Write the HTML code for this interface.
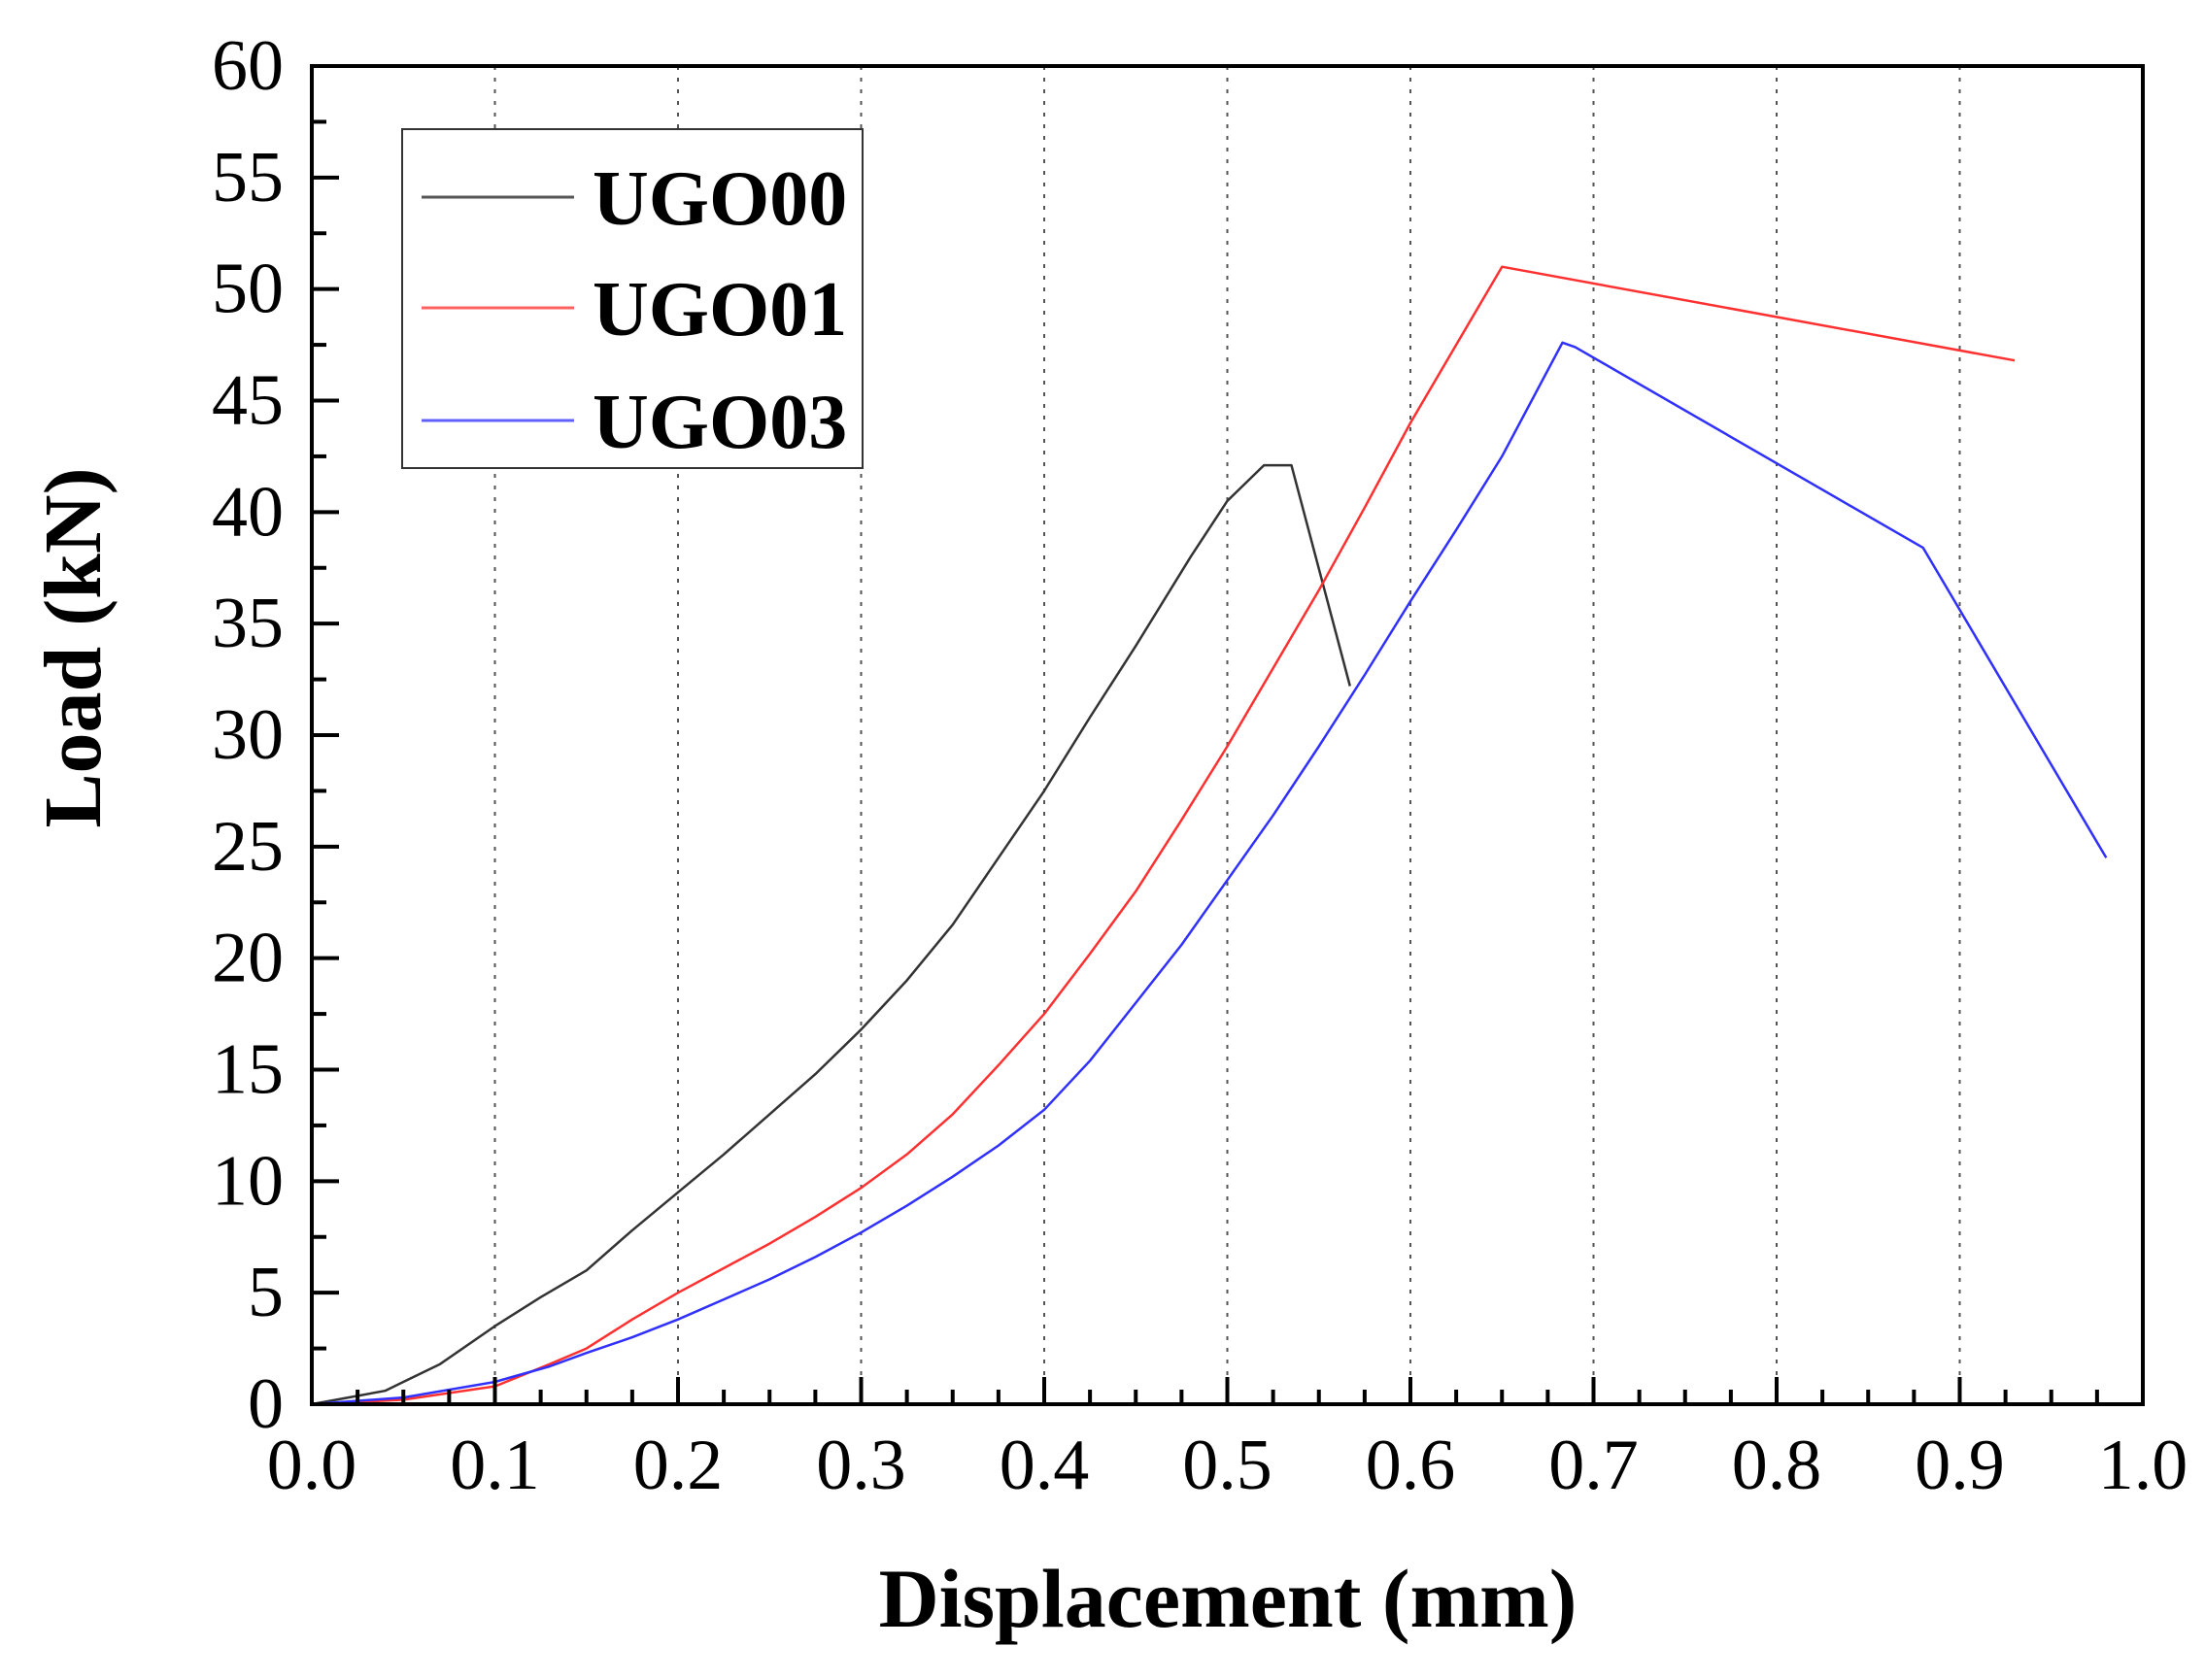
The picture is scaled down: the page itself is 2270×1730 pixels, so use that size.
<!DOCTYPE html>
<html><head><meta charset="utf-8"><style>
html,body{margin:0;padding:0;background:#fff;}
svg{display:block;}
text{font-family:"Liberation Serif",serif;fill:#000;}
</style></head><body>
<svg id="chart" width="2270" height="1730" viewBox="0 0 2270 1730" xmlns="http://www.w3.org/2000/svg">
<g id="grid"></g>
<g id="series"></g>
<g id="axes"></g>
<text transform="translate(103,667) rotate(-90)" text-anchor="middle" font-size="84" font-weight="bold">Load (kN)</text>
<text x="1264" y="1675" text-anchor="middle" font-size="86" font-weight="bold">Displacement (mm)</text>
<g>
<rect x="414" y="133" width="474" height="349" fill="#fff" stroke="#333" stroke-width="2"/>
<line x1="434" y1="203" x2="591" y2="203" stroke="#555" stroke-width="3"/>
<text x="610" y="231" font-size="80" font-weight="bold">UGO00</text>
<line x1="434" y1="317" x2="591" y2="317" stroke="#ff6060" stroke-width="3"/>
<text x="610" y="345" font-size="80" font-weight="bold">UGO01</text>
<line x1="434" y1="433" x2="591" y2="433" stroke="#6060ff" stroke-width="3"/>
<text x="610" y="461" font-size="80" font-weight="bold">UGO03</text>
</g>
</svg>
<script>
const xTicks = [0.0,0.1,0.2,0.3,0.4,0.5,0.6,0.7,0.8,0.9,1.0];
const xTickLabels = ["0.0","0.1","0.2","0.3","0.4","0.5","0.6","0.7","0.8","0.9","1.0"];
const yTicks = [0,5,10,15,20,25,30,35,40,45,50,55,60];
const yTickLabels = ["0","5","10","15","20","25","30","35","40","45","50","55","60"];
const ugo00X = [0,0.02,0.04,0.05,0.07,0.1,0.125,0.15,0.175,0.2,0.225,0.25,0.275,0.3,0.325,0.35,0.375,0.4,0.425,0.45,0.48,0.5,0.52,0.535,0.567];
const ugo00Y = [0,0.3,0.6,1,1.8,3.5,4.8,6,7.8,9.5,11.2,13,14.8,16.8,19,21.5,24.5,27.5,30.8,34,38,40.5,42.1,42.1,32.2];
const ugo01X = [0,0.05,0.1,0.13,0.15,0.175,0.2,0.25,0.275,0.3,0.325,0.35,0.375,0.4,0.425,0.45,0.475,0.5,0.525,0.55,0.575,0.6,0.625,0.65,0.93];
const ugo01Y = [0,0.2,0.8,1.8,2.5,3.8,5,7.2,8.4,9.7,11.2,13,15.2,17.5,20.2,23,26.2,29.5,33,36.5,40.2,44,47.5,51,46.8];
const ugo03X = [0,0.05,0.1,0.13,0.15,0.175,0.2,0.225,0.25,0.275,0.3,0.325,0.35,0.375,0.4,0.425,0.45,0.475,0.5,0.525,0.55,0.575,0.6,0.625,0.65,0.683,0.69,0.88,0.98];
const ugo03Y = [0,0.3,1,1.7,2.3,3.0,3.8,4.7,5.6,6.6,7.7,8.9,10.2,11.6,13.2,15.4,18,20.6,23.5,26.4,29.5,32.7,36,39.2,42.5,47.6,47.4,38.4,24.5];

const L=321,R=2206,T=68,B=1446;
const xs=v=>L+(v-0)/(1-0)*(R-L);
const ys=v=>B-(v-0)/(60-0)*(B-T);
const NS="http://www.w3.org/2000/svg";
function mk(tag,parent,attrs){const e=document.createElementNS(NS,tag);for(const k in attrs)e.setAttribute(k,attrs[k]);parent.appendChild(e);return e;}
const grid=document.getElementById('grid'),axes=document.getElementById('axes'),series=document.getElementById('series');

xTicks.forEach((v,i)=>{
  if(v>0&&v<1){
    const g=mk('line',grid,{x1:xs(v),x2:xs(v),y1:T,y2:B,stroke:'#555','stroke-width':2,'stroke-dasharray':'4 8'});
    
    
  }
  const t=mk('line',axes,{x1:xs(v),x2:xs(v),y1:B,y2:B-28,stroke:'#000','stroke-width':4});
  
  
  const lb=mk('text',axes,{x:xs(v),y:1533,'text-anchor':'middle','font-size':74});
  lb.textContent=xTickLabels[i];
  
  
  if(i<xTicks.length-1){for(let k=1;k<4;k++){const m=v+k*0.025;
    const mt=mk('line',axes,{x1:xs(m),x2:xs(m),y1:B,y2:B-15,stroke:'#000','stroke-width':4});
    
    
  }}
});
yTicks.forEach((v,i)=>{
  const t=mk('line',axes,{x1:L,x2:L+28,y1:ys(v),y2:ys(v),stroke:'#000','stroke-width':4});
  
  
  const lb=mk('text',axes,{x:292,y:ys(v)+24,'text-anchor':'end','font-size':74});
  lb.textContent=yTickLabels[i];
  
  
  if(i<yTicks.length-1){const mt=mk('line',axes,{x1:L,x2:L+15,y1:ys(v+2.5),y2:ys(v+2.5),stroke:'#000','stroke-width':4});
    
    }
});
const frame=mk('rect',axes,{x:L,y:T,width:R-L,height:B-T,fill:'none',stroke:'#000','stroke-width':4});



function drawSeries(xArr,yArr,color,name){
  const pts=xArr.map((x,i)=>xs(x).toFixed(1)+','+ys(yArr[i]).toFixed(1)).join(' ');
  const p=mk('polyline',series,{points:pts,fill:'none',stroke:color,'stroke-width':2.5,'stroke-linejoin':'round'});
  
  
}
drawSeries(ugo00X,ugo00Y,'#333','series-ugo00');
drawSeries(ugo01X,ugo01Y,'#ff3030','series-ugo01');
drawSeries(ugo03X,ugo03Y,'#3030ff','series-ugo03');
</script>
</body></html>
